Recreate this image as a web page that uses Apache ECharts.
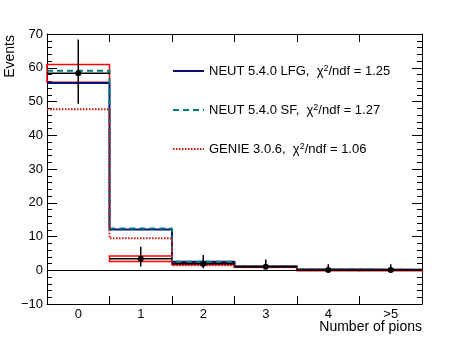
<!DOCTYPE html>
<html>
<head>
<meta charset="utf-8">
<script src="https://cdn.jsdelivr.net/npm/echarts@6.0.0/dist/echarts.min.js"></script>
<style>
  html, body { margin: 0; padding: 0; background: #fff; }
  #pionChart { width: 469px; height: 338px; }
</style>
</head>
<body>
<div id="pionChart"></div>
<script>
// bins: number of pions
const binLabels = ["0", "1", "2", "3", "4", ">5"];

// measured data with error bars
const dataVal = [58.4, 3.4, 1.9, 1.05, 0.08, 0.08];
const dataLo = [49.3, 1.1, 0.6, 0.3, 0, 0];
const dataHi = [68.4, 7.0, 4.5, 3.2, 1.8, 1.8];

// red boxes (systematic band)
const sysLo = [55.7, 2.6, 1.6, 0.9, 0, 0];
const sysHi = [61.0, 4.2, 2.2, 1.2, 0.15, 0.15];

// generator predictions
const neutLfg = [55.5, 12.1, 2.5, 1.1, 0.2, 0.15];
const neutSf = [59.1, 12.4, 2.5, 1.1, 0.2, 0.15];
const genie = [47.7, 9.5, 1.5, 0.9, 0.15, 0.1];

const modelNames = ["NEUT 5.4.0 LFG", "NEUT 5.4.0 SF", "GENIE 3.0.6"];
const chi2 = ["1.25", "1.27", "1.06"];

const FONT = "Liberation Sans, Arial, Helvetica, sans-serif";

// histogram as step line through bin edges
function stepData(v) {
  const out = v.map((y, i) => [i, y]);
  out.push([v.length, v[v.length - 1]]);
  return out;
}

const chart = echarts.init(document.getElementById("pionChart"));

const option = {
  animation: false,
  textStyle: { fontFamily: FONT },
  grid: { left: 47, right: 47, top: 34, bottom: 34, containLabel: false, outerBoundsMode: "none" },
  legend: {
    data: modelNames,
    orient: "vertical",
    left: 172,
    top: 64,
    padding: 0,
    itemWidth: 31,
    itemHeight: 14,
    itemGap: 25,
    selectedMode: false,
    // hide the marker dot, keep the line
    itemStyle: { opacity: 0, color: "transparent", borderColor: "transparent", borderWidth: 0 },
    textStyle: {
      fontFamily: FONT,
      fontSize: 13,
      color: "#000",
      lineHeight: 14,
      rich: {
        sup: { fontSize: 9, fontFamily: FONT, color: "#000", verticalAlign: "top", lineHeight: 9 },
      },
    },
    formatter: (name) => {
      const i = modelNames.indexOf(name);
      return name + ",  \u03c7{sup|2}/ndf = " + chi2[i];
    },
  },
  graphic: [
    {
      type: "text",
      x: 10,
      y: 35,
      rotation: Math.PI / 2,
      style: {
        text: "Events",
        fontFamily: FONT,
        fontSize: 14,
        fill: "#000",
        align: "right",
        verticalAlign: "middle",
      },
    },
  ],
  xAxis: [
    {
      type: "value",
      min: 0,
      max: 6,
      interval: 1,
      position: "bottom",
      axisLine: { onZero: false, lineStyle: { color: "#000", width: 1 } },
      axisTick: { inside: true, length: 8, lineStyle: { color: "#000" } },
      axisLabel: { show: false },
      splitLine: { show: false },
      name: "Number of pions",
      nameLocation: "end",
      nameGap: 0,
      nameTextStyle: {
        fontFamily: FONT,
        fontSize: 14,
        color: "#000",
        align: "right",
        verticalAlign: "top",
        padding: [16, 0, 0, 0],
      },
    },
    {
      type: "category",
      data: binLabels,
      position: "bottom",
      boundaryGap: true,
      axisLine: { show: false },
      axisTick: { show: false },
      axisLabel: { color: "#000", fontSize: 13, fontFamily: FONT, margin: 4 },
      splitLine: { show: false },
    },
    {
      type: "value",
      min: 0,
      max: 6,
      interval: 1,
      position: "top",
      axisLine: { onZero: false, lineStyle: { color: "#000", width: 1 } },
      axisTick: { inside: true, length: 8, lineStyle: { color: "#000" } },
      axisLabel: { show: false },
      splitLine: { show: false },
    },
  ],
  yAxis: [
    {
      type: "value",
      min: -10,
      max: 70,
      interval: 10,
      position: "left",
      axisLine: { show: true, onZero: false, lineStyle: { color: "#000", width: 1 } },
      axisTick: { show: true, inside: true, length: 10, lineStyle: { color: "#000" } },
      minorTick: { show: true, splitNumber: 5, length: 5, lineStyle: { color: "#000" } },
      axisLabel: {
        color: "#000",
        fontSize: 13,
        fontFamily: FONT,
        margin: 4,
        formatter: (v) => String(v).replace("-", "\u2212"),
      },
      splitLine: { show: false },
    },
    {
      type: "value",
      min: -10,
      max: 70,
      interval: 10,
      position: "right",
      axisLine: { show: true, onZero: false, lineStyle: { color: "#000", width: 1 } },
      axisTick: { show: true, inside: true, length: 10, lineStyle: { color: "#000" } },
      minorTick: { show: true, splitNumber: 5, length: 5, lineStyle: { color: "#000" } },
      axisLabel: { show: false },
      splitLine: { show: false },
    },
  ],
  series: [
    {
      name: "sys",
      type: "custom",
      xAxisIndex: 0,
      yAxisIndex: 0,
      z: 2,
      encode: { x: 0, y: [1, 2] },
      data: sysLo.map((lo, i) => [i, lo, sysHi[i]]),
      renderItem: (params, api) => {
        const i = api.value(0);
        const p1 = api.coord([i, api.value(2)]);
        const p2 = api.coord([i + 1, api.value(1)]);
        return {
          type: "rect",
          shape: { x: p1[0], y: p1[1], width: p2[0] - p1[0], height: Math.max(p2[1] - p1[1], 1) },
          style: { fill: "none", stroke: "#ff0000", lineWidth: 1.5 },
        };
      },
    },
    {
      name: "data",
      type: "custom",
      xAxisIndex: 0,
      yAxisIndex: 0,
      z: 6,
      encode: { x: 0, y: 1 },
      data: dataVal.map((v, i) => [i, v, dataLo[i], dataHi[i]]),
      renderItem: (params, api) => {
        const i = api.value(0);
        const v = api.value(1);
        const l = api.coord([i, v]);
        const r = api.coord([i + 1, v]);
        const c = api.coord([i + 0.5, v]);
        const lo = api.coord([i + 0.5, api.value(2)]);
        const hi = api.coord([i + 0.5, api.value(3)]);
        const st = { stroke: "#000", lineWidth: 1.5 };
        return {
          type: "group",
          children: [
            { type: "line", shape: { x1: l[0], y1: l[1], x2: r[0], y2: r[1] }, style: st },
            { type: "line", shape: { x1: c[0], y1: lo[1], x2: c[0], y2: hi[1] }, style: st },
            { type: "circle", shape: { cx: c[0], cy: c[1], r: 3 }, style: { fill: "#000" } },
          ],
        };
      },
    },
    {
      name: modelNames[0],
      type: "line",
      xAxisIndex: 0,
      yAxisIndex: 0,
      step: "end",
      symbol: "none",
      z: 4,
      color: "#0d0d7a",
      lineStyle: { color: "#0d0d7a", width: 2, type: "solid" },
      data: stepData(neutLfg),
      markLine: {
        silent: true,
        symbol: "none",
        label: { show: false },
        lineStyle: { color: "#000", width: 1, type: "solid" },
        data: [{ yAxis: 0 }],
      },
    },
    {
      name: modelNames[1],
      type: "line",
      xAxisIndex: 0,
      yAxisIndex: 0,
      step: "end",
      symbol: "none",
      z: 5,
      color: "#007a7a",
      lineStyle: { color: "#007a7a", width: 2, type: [6, 4] },
      data: stepData(neutSf),
    },
    {
      name: modelNames[2],
      type: "line",
      xAxisIndex: 0,
      yAxisIndex: 0,
      step: "end",
      symbol: "none",
      z: 5,
      color: "#cc1111",
      lineStyle: { color: "#cc1111", width: 2, type: [1.5, 1.5] },
      data: stepData(genie),
    },
  ],
};

chart.setOption(option);
</script>
</body>
</html>
